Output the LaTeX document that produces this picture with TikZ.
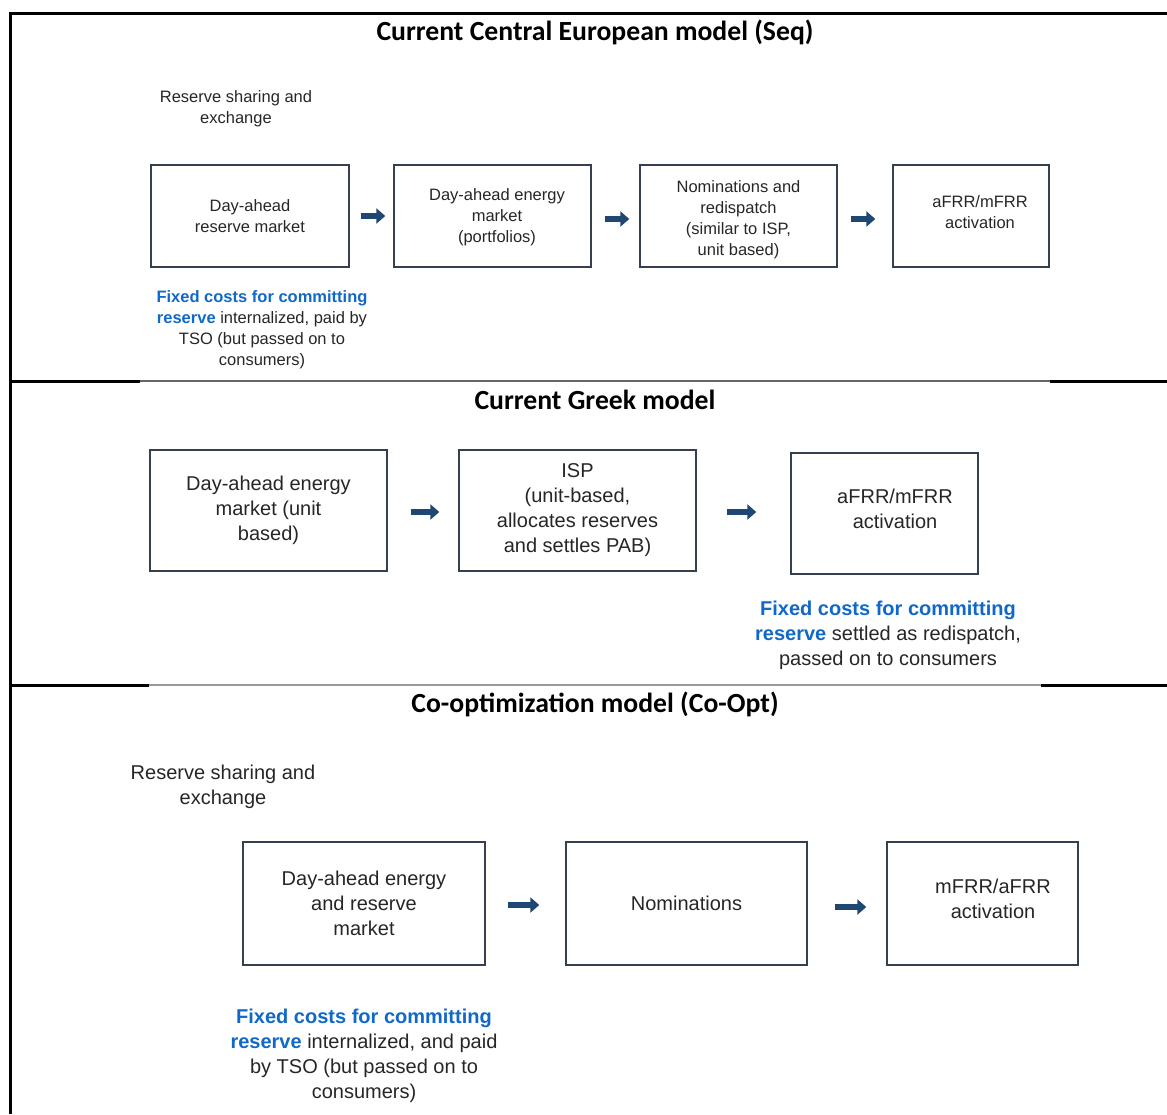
\documentclass[tikz,border=0pt]{standalone}
\usepackage{fontspec}
\setmainfont{Liberation Sans}
\newfontfamily\titlefont{Carlito}
\usetikzlibrary{arrows.meta}
\definecolor{boxc}{RGB}{52,64,80}
\definecolor{arrc}{RGB}{31,71,116}
\definecolor{bluetxt}{RGB}{16,104,200}
\newcommand\bluebf[1]{\textcolor{bluetxt}{\bfseries #1}}
\begin{document}
\begin{tikzpicture}[x=1pt,y=-1pt,
  box/.style={draw=boxc, line width=1.4pt, inner sep=0pt, align=center},
  sA/.style={font=\fontsize{16.5}{21}\selectfont, text=black!85},
  sB/.style={font=\fontsize{20}{25}\selectfont, text=black!85},
  ttl/.style={font=\titlefont\bfseries\fontsize{27.7}{32}\selectfont},
  note/.style={align=center, inner sep=0pt},
  arr/.style={draw=arrc, line width=6pt, -{Triangle[length=9pt,width=15pt]}},
  frame/.style={line width=3pt, black},
  sep/.style={line width=1.5pt},
]
\useasboundingbox (0,0) rectangle (1167,1114);
% frame
\draw[frame] (10,1114) -- (10,13) -- (1167,13);
% separators
\draw[frame] (10,381) -- (140,381);
\draw[sep, draw=black!60] (140,381) -- (1050,381);
\draw[frame] (1050,381) -- (1167,381);
\draw[frame] (10,685) -- (149,685);
\draw[sep, draw=black!40] (149,685) -- (1041,685);
\draw[frame] (1041,685) -- (1167,685);

% ---------- Section 1 ----------
\node[ttl] (t1) at (595,32) {Current Central European model (Seq)};
\node[sA, note] (rs1) at (236,109) {Reserve sharing and\\exchange};
\node[box, sA, minimum width=198pt, minimum height=102pt] (a1) at (250,216) {Day-ahead\\reserve market};
\node[box, minimum width=197pt, minimum height=102pt] (a2) at (492.5,216) {};
\node[sA, note] (a2t) at (497,217) {Day-ahead energy\\market\\(portfolios)};
\node[box, minimum width=197pt, minimum height=102pt] (a3) at (738.5,216) {};
\node[sA, note] (a3t) at (738.5,219.5) {Nominations and\\redispatch\\(similar to ISP,\\unit based)};
\node[box, minimum width=156pt, minimum height=102pt] (a4) at (971,216) {};
\node[sA, note] (a4t) at (980,212) {aFRR/mFRR\\activation};
\draw[arr, shorten <=11pt, shorten >=8pt] (a1) -- (a2);
\draw[arr, shorten <=13pt, shorten >=10pt] ([yshift=-3pt]a2.east) -- ([yshift=-3pt]a3.west);
\draw[arr, shorten <=13pt, shorten >=17pt] ([yshift=-3pt]a3.east) -- ([yshift=-3pt]a4.west);
\node[sA, note] (n1) at (262,329.5) {\bluebf{Fixed costs for committing}\\\bluebf{reserve} internalized, paid by\\TSO (but passed on to\\consumers)};

% ---------- Section 2 ----------
\node[ttl] (t2) at (595,400) {Current Greek model};
\node[box, sB, minimum width=237pt, minimum height=121pt] (b1) at (268.5,510.5) {Day-ahead energy\\market (unit\\based)};
\node[box, sB, minimum width=237pt, minimum height=121pt] (b2) at (577.5,510.5) {ISP\\(unit-based,\\allocates reserves\\and settles PAB)};
\node[box, minimum width=187pt, minimum height=121pt] (b3) at (884.5,513.5) {};
\node[sB, note] (b3t) at (895,508.5) {aFRR/mFRR\\activation};
\draw[arr, shorten <=23pt, shorten >=19pt] ([yshift=-1.5pt]b1.east) -- ([yshift=-1.5pt]b2.west);
\draw[arr, shorten <=30pt, shorten >=34pt] ([yshift=-1.5pt]b2.east) -- ([yshift=-1.5pt]b2.east -| b3.west);
\node[sB, note] (n2) at (888,635) {\bluebf{Fixed costs for committing}\\\bluebf{reserve} settled as redispatch,\\passed on to consumers};

% ---------- Section 3 ----------
\node[ttl] (t3) at (595,704) {Co-optimization model (Co-Opt)};
\node[sB, note] (rs3) at (223,787) {Reserve sharing and\\exchange};
\node[box, sB, minimum width=242pt, minimum height=123pt] (c1) at (364,903.5) {Day-ahead energy\\and reserve\\market};
\node[box, sB, minimum width=241pt, minimum height=123pt] (c2) at (686.5,903.5) {Nominations};
\node[box, minimum width=191pt, minimum height=123pt] (c3) at (982.5,903.5) {};
\node[sB, note] (c3t) at (993,898.5) {mFRR/aFRR\\activation};
\draw[arr, shorten <=22pt, shorten >=26pt] ([yshift=-1.5pt]c1.east) -- ([yshift=-1.5pt]c2.west);
\draw[arr, shorten <=27pt, shorten >=20pt] ([yshift=-3.5pt]c2.east) -- ([yshift=-3.5pt]c3.west);
\node[sB, note] (n3) at (364,1055.5) {\bluebf{Fixed costs for committing}\\\bluebf{reserve} internalized, and paid\\by TSO (but passed on to\\consumers)};
\end{tikzpicture}
\end{document}
